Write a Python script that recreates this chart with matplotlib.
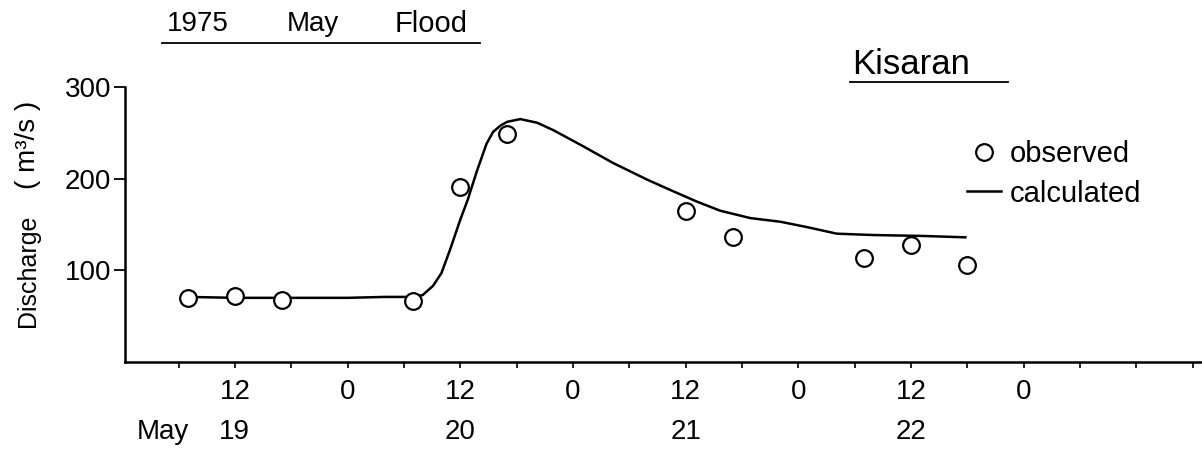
import matplotlib
matplotlib.use("Agg")
import matplotlib.pyplot as plt
from matplotlib.lines import Line2D
from matplotlib.ticker import MultipleLocator, FixedLocator, FixedFormatter

plt.rcParams['font.family'] = ['Liberation Sans Narrow', 'Liberation Sans', 'DejaVu Sans']

# hours counted from 0:00 May 19
obs_hours = [7, 12, 17, 31, 36, 41, 60, 65, 79, 84, 90]
obs_q = [70, 72, 68, 67, 191, 249, 165, 136, 113, 128, 106]

calc_hours = [7, 12, 17, 24, 28, 31, 32, 33.1, 34, 34.9, 36, 36.8, 37.8, 38.8,
              39.5, 40.3, 41, 42.4, 44.2, 45.9, 48.8, 52.3, 55.9, 58.3, 61.2, 63.7,
              66.9, 70.1, 73, 76.1, 80, 85.3, 89.8]
calc_q = [71, 70, 70, 70, 71, 71, 73, 83, 97, 122, 155, 177, 209, 238,
          251, 258, 262, 265, 261, 253, 237, 217, 199, 188, 175, 165,
          157, 153, 147, 140, 138.5, 137.5, 136]

hour_ticks = [12, 24, 36, 48, 60, 72, 84, 96]
hour_labels = ["12", "0", "12", "0", "12", "0", "12", "0"]
day_ticks = [12, 36, 60, 84]
day_labels = ["19", "20", "21", "22"]

W, H = 1202, 453
fig = plt.figure(figsize=(W / 100, H / 100), dpi=100)
ax = fig.add_axes([125 / W, 1 - 362 / H, 1 - 125 / W, 275 / H])

calc_line, = ax.plot(calc_hours, calc_q, color='black', lw=1.8, label='calculated')
obs_pts, = ax.plot(obs_hours, obs_q, 'o', ms=12, mfc='white', mec='black', mew=1.6,
                   label='observed', zorder=3)

ax.set_xlim(0.3, 115)
ax.set_ylim(0, 300)
ax.spines['top'].set_visible(False)
ax.spines['right'].set_visible(False)
for s in ('left', 'bottom'):
    ax.spines[s].set_linewidth(1.8)

ax.set_yticks([100, 200, 300])
ax.set_yticklabels(["100", "200", "300"])
ax.tick_params(axis='y', direction='out', length=8, width=1.3, pad=2, labelsize=20)

ax.xaxis.set_major_locator(FixedLocator(hour_ticks))
ax.xaxis.set_major_formatter(FixedFormatter(hour_labels))
ax.xaxis.set_minor_locator(MultipleLocator(6))
ax.tick_params(axis='x', which='both', direction='out', length=4, width=1.2)
ax.tick_params(axis='x', which='major', pad=8, labelsize=20)

# day row under the hour labels
tr = ax.get_xaxis_transform()
for d, lab in zip(day_ticks, day_labels):
    ax.text(d, -0.255, lab, transform=tr, ha='center', va='center', fontsize=20)
ax.text(7.1, -0.255, "May", transform=tr, ha='right', va='center', fontsize=20)

# y label
fig.text(28 / W, 1 - 271 / H, "Discharge", rotation=90, ha='center', va='center', fontsize=18)
fig.text(28 / W, 1 - 145 / H, "( m³/s )", rotation=90, ha='center', va='center', fontsize=20)

# titles with underlines
fig.text(167 / W, 1 - 24 / H, "1975", ha='left', va='center', fontsize=20)
fig.text(287 / W, 1 - 24 / H, "May", ha='left', va='center', fontsize=20)
fig.text(395 / W, 1 - 24 / H, "Flood", ha='left', va='center', fontsize=21)
fig.add_artist(Line2D([162 / W, 480 / W], [1 - 43 / H, 1 - 43 / H], color='black', lw=1.3))

fig.text(852 / W, 1 - 64 / H, "Kisaran", ha='left', va='center', fontsize=25)
fig.add_artist(Line2D([850 / W, 1008 / W], [1 - 82 / H, 1 - 82 / H], color='black', lw=1.3))

ax.legend(handles=[obs_pts, calc_line], loc='upper left', frameon=False,
          bbox_to_anchor=(967 / W, 1 - 140 / H), bbox_transform=fig.transFigure,
          borderpad=0, borderaxespad=0, handlelength=1.15, handletextpad=0.3,
          labelspacing=0.4, fontsize=21)

fig.savefig("out.png", dpi=100)
